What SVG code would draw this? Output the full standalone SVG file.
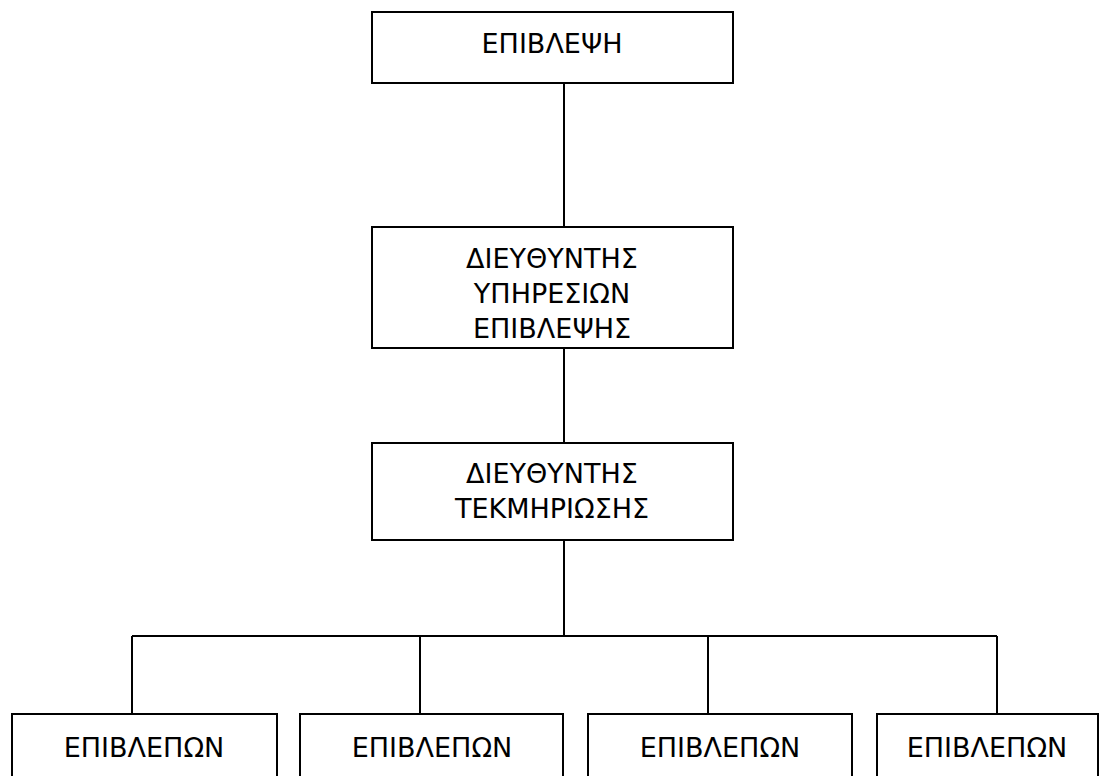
<svg xmlns="http://www.w3.org/2000/svg" width="1108" height="776" viewBox="0 0 1108 776">
<style>
.box{fill:#fff;stroke:#000;stroke-width:2}
.lbl{font-family:"DejaVu Sans",Verdana,sans-serif;font-size:27px;fill:#000;text-anchor:middle}
.conn{stroke:#000;stroke-width:2;fill:none}
</style>
<rect width="1108" height="776" fill="#fff"/>
<g id="connectors">
<line class="conn" x1="564" y1="83" x2="564" y2="227"/>
<line class="conn" x1="564" y1="348" x2="564" y2="443"/>
<line class="conn" x1="564" y1="540" x2="564" y2="636"/>
<line class="conn" x1="132" y1="636" x2="997" y2="636"/>
<line class="conn" x1="132" y1="636" x2="132" y2="714"/>
<line class="conn" x1="420" y1="636" x2="420" y2="714"/>
<line class="conn" x1="708" y1="636" x2="708" y2="714"/>
<line class="conn" x1="997" y1="636" x2="997" y2="714"/>
</g>
<g id="n_epivlepsi">
<rect class="box" x="372" y="12" width="361" height="71"/>
<text class="lbl" x="552" y="53">ΕΠΙΒΛΕΨΗ</text>
</g>
<g id="n_dieuthyntis_ypiresion">
<rect class="box" x="372" y="227" width="361" height="121"/>
<text class="lbl" x="552" y="268">ΔΙΕΥΘΥΝΤΗΣ</text>
<text class="lbl" x="552" y="303">ΥΠΗΡΕΣΙΩΝ</text>
<text class="lbl" x="552" y="338">ΕΠΙΒΛΕΨΗΣ</text>
</g>
<g id="n_dieuthyntis_tekmiriosis">
<rect class="box" x="372" y="443" width="361" height="97"/>
<text class="lbl" x="552" y="483">ΔΙΕΥΘΥΝΤΗΣ</text>
<text class="lbl" x="552" y="518">ΤΕΚΜΗΡΙΩΣΗΣ</text>
</g>
<g id="n_epiv1">
<rect class="box" x="12" y="714" width="265" height="80"/>
<text class="lbl" x="144" y="757">ΕΠΙΒΛΕΠΩΝ</text>
</g>
<g id="n_epiv2">
<rect class="box" x="300" y="714" width="263" height="80"/>
<text class="lbl" x="432" y="757">ΕΠΙΒΛΕΠΩΝ</text>
</g>
<g id="n_epiv3">
<rect class="box" x="588" y="714" width="264" height="80"/>
<text class="lbl" x="720" y="757">ΕΠΙΒΛΕΠΩΝ</text>
</g>
<g id="n_epiv4">
<rect class="box" x="877" y="714" width="221" height="80"/>
<text class="lbl" x="987" y="757">ΕΠΙΒΛΕΠΩΝ</text>
</g>
</svg>
